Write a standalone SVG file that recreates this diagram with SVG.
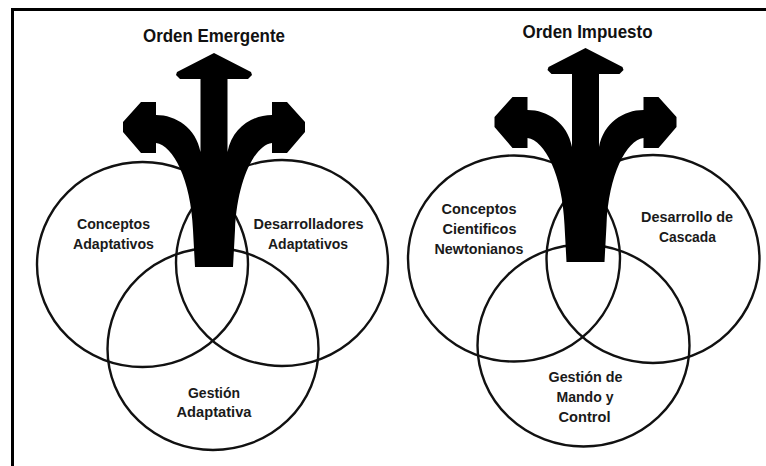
<svg xmlns="http://www.w3.org/2000/svg" xmlns:xlink="http://www.w3.org/1999/xlink" width="766" height="466" viewBox="0 0 766 466">
  <style>
    .ring { fill: none; stroke: #111; stroke-width: 2.4; }
    .frame { fill: none; stroke: #000; stroke-width: 3; }
    .lbl { font-family: "Liberation Sans", Arial, sans-serif; font-weight: bold; font-size: 15px; fill: #1a1a1a; text-anchor: middle; }
    .title { font-family: "Liberation Sans", Arial, sans-serif; font-weight: bold; font-size: 18.5px; fill: #111; text-anchor: middle; }
    .fork { fill: #000; }
  </style>
  <defs>
    <!-- three-way fork arrow, centred on x = 0 -->
    <path id="fork" class="fork" d="M 0,53 L 37,72 L 38,75 L 34,79 L 13.5,79 L 13.5,152 C 18,128 38,115 58,115 L 58,102 L 73,102 L 91,122 L 91,132 L 73,153 L 58,153 L 58,143 C 41,145 23,180 21,230 L 19,267 L -19,267 L -21,230 C -23,180 -41,145 -58,143 L -58,153 L -73,153 L -91,132 L -91,122 L -73,102 L -58,102 L -58,115 C -38,115 -18,128 -13.5,152 L -13.5,79 L -34,79 L -38,75 L -37,72 Z"/>
  </defs>

  <rect width="766" height="466" fill="#fff"/>
  <path class="frame" d="M 12.5,466 L 12.5,9.5 L 766,9.5"/>

  <!-- left diagram -->
  <g id="emergente">
    <g id="conceptos-adaptativos">
      <ellipse class="ring" cx="142.5" cy="264.5" rx="105.5" ry="102.5"/>
      <text class="lbl" x="113.5" y="229" textLength="73" lengthAdjust="spacingAndGlyphs">Conceptos</text>
      <text class="lbl" x="113.5" y="249" textLength="81" lengthAdjust="spacingAndGlyphs">Adaptativos</text>
    </g>
    <g id="desarrolladores-adaptativos">
      <ellipse class="ring" cx="282" cy="263" rx="106" ry="103"/>
      <text class="lbl" x="308.5" y="229" textLength="110" lengthAdjust="spacingAndGlyphs">Desarrolladores</text>
      <text class="lbl" x="308" y="249" textLength="80" lengthAdjust="spacingAndGlyphs">Adaptativos</text>
    </g>
    <g id="gestion-adaptativa">
      <ellipse class="ring" cx="213" cy="349" rx="105.5" ry="101"/>
      <text class="lbl" x="214" y="397.5" textLength="52" lengthAdjust="spacingAndGlyphs">Gestión</text>
      <text class="lbl" x="214" y="417" textLength="75" lengthAdjust="spacingAndGlyphs">Adaptativa</text>
    </g>
    <g id="flecha-emergente">
      <use xlink:href="#fork" href="#fork" transform="translate(214,0)"/>
    </g>
    <g id="titulo-emergente">
      <text class="title" x="214" y="41.5" textLength="142" lengthAdjust="spacingAndGlyphs">Orden Emergente</text>
    </g>
  </g>

  <!-- right diagram -->
  <g id="impuesto">
    <g id="conceptos-newtonianos">
      <ellipse class="ring" cx="514" cy="258.5" rx="106" ry="103"/>
      <text class="lbl" x="479" y="213.5" textLength="75" lengthAdjust="spacingAndGlyphs">Conceptos</text>
      <text class="lbl" x="479.5" y="233.5" textLength="74" lengthAdjust="spacingAndGlyphs">Cientificos</text>
      <text class="lbl" x="479" y="253.5" textLength="89" lengthAdjust="spacingAndGlyphs">Newtonianos</text>
    </g>
    <g id="desarrollo-cascada">
      <ellipse class="ring" cx="653" cy="259" rx="106.5" ry="104"/>
      <text class="lbl" x="687" y="221.5" textLength="92" lengthAdjust="spacingAndGlyphs">Desarrollo de</text>
      <text class="lbl" x="687.5" y="241.5" textLength="57" lengthAdjust="spacingAndGlyphs">Cascada</text>
    </g>
    <g id="gestion-mando-control">
      <ellipse class="ring" cx="583.5" cy="345.5" rx="106" ry="101"/>
      <text class="lbl" x="585.5" y="381.5" textLength="74" lengthAdjust="spacingAndGlyphs">Gestión de</text>
      <text class="lbl" x="585" y="401.5" textLength="57" lengthAdjust="spacingAndGlyphs">Mando y</text>
      <text class="lbl" x="584.5" y="421.5" textLength="52" lengthAdjust="spacingAndGlyphs">Control</text>
    </g>
    <g id="flecha-impuesto">
      <use xlink:href="#fork" href="#fork" transform="translate(585.5,-5)"/>
    </g>
    <g id="titulo-impuesto">
      <text class="title" x="587.5" y="38" textLength="130" lengthAdjust="spacingAndGlyphs">Orden Impuesto</text>
    </g>
  </g>
</svg>
